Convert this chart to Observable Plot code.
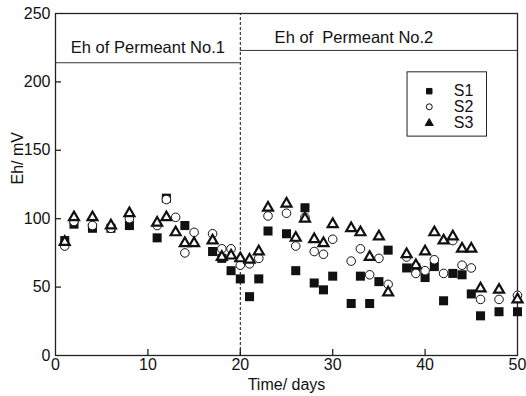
<!DOCTYPE html>
<html>
<head>
<meta charset="utf-8">
<script src="https://cdn.jsdelivr.net/npm/d3@7"></script>
<script src="https://cdn.jsdelivr.net/npm/@observablehq/plot@0.6"></script>
<style>
  html, body { margin: 0; padding: 0; background: white; }
  svg text { white-space: pre; }
</style>
</head>
<body>
<div id="chart"></div>
<script>
// ---- data ----
const days = [1,2,4,6,8,11,12,13,14,15,17,18,19,20,21,22,23,25,26,27,28,29,30,32,33,34,35,36,38,39,40,41,42,43,44,45,46,48,50];
const s1 = [84,96,93,93,95,86,115,null,95,null,76,71,62,56,43,56,91,89,62,108,53,48,58,38,58,38,54,77,64,64,57,65,40,60,59,45,29,32,32];
const s2 = [80,98,95,93,100,95,114,101,75,90,89,78,78,66,67,71,102,104,80,101,76,74,85,69,78,59,71,52,72,60,62,70,60,84,66,64,41,41,44];
const s3 = [83,101,101,95,104,97,101,90,82,82,84,72,73,71,70,76,108,111,86,100,85,82,96,93,90,72,87,46,74,66,76,90,84,87,78,78,49,48,41];
const seriesNames = ["S1","S2","S3"];
const xTicks = [0,10,20,30,40,50];
const yTicks = [0,50,100,150,200,250];
const boundaryDay = 20;
const headerLevels = [214, 223];
const headerTexts = ["Eh of Permeant No.1", "Eh of  Permeant No.2"];
const headerTextPos = [[10, 225], [32.3, 232.5]];
const xLabel = "Time/ days";
const yLabel = "Eh/ mV";
// legend placement in data units
const legendBox = {x1: 38.1, x2: 46.7, y1: 160, y2: 207};
const legendRowY = [193.2, 181.8, 169.8];
const legendSymX = 40.45, legendTextX = 43.1;

const rows = (vals) => days.map((d, i) => ({day: d, v: vals[i]})).filter(r => r.v != null);

const W = 526, H = 396, mL = 55, mR = 9, mT = 13, mB = 41;
const pw = W - mL - mR, ph = H - mT - mB;
const font = "'Liberation Sans', Arial, sans-serif";

const legendRows = seriesNames.map((s, i) => ({name: s, y: legendRowY[i], sym: ["square","circle","triangle"][i]}));

const chart = Plot.plot({
  width: W, height: H,
  marginLeft: mL, marginRight: mR, marginTop: mT, marginBottom: mB,
  style: {fontFamily: font, fontSize: "16px", color: "#111", background: "white", overflow: "visible"},
  x: {domain: [0, 50], ticks: xTicks, tickSize: 0, tickPadding: 3, label: null},
  y: {domain: [0, 250], ticks: yTicks, tickSize: 0, tickPadding: 5, label: null},
  marks: [
    Plot.frame({stroke: "#222", strokeWidth: 1.3}),
    Plot.tickY(yTicks.slice(1, -1), {y: d => d, insetRight: pw - 6, stroke: "#222", strokeWidth: 1.3}),
    Plot.tickX(xTicks.slice(1, -1), {x: d => d, insetTop: ph - 6, stroke: "#222", strokeWidth: 1.3}),
    Plot.ruleX([boundaryDay], {y1: 0, y2: 250, stroke: "#111", strokeDasharray: "3,2", strokeWidth: 1}),
    Plot.ruleY([headerLevels[0]], {x1: 0, x2: boundaryDay, stroke: "#333", strokeWidth: 1}),
    Plot.ruleY([headerLevels[1]], {x1: boundaryDay, x2: 50, stroke: "#333", strokeWidth: 1}),
    Plot.text(headerTexts, {x: (d, i) => headerTextPos[i][0], y: (d, i) => headerTextPos[i][1], text: d => d, fill: "#111", fontSize: 16.5}),
    Plot.dot(rows(s1), {x: "day", y: "v", symbol: "square", r: 5.1, fill: "#111", stroke: "none"}),
    Plot.dot(rows(s2), {x: "day", y: "v", symbol: "circle", r: 4.3, fill: "white", stroke: "#111", strokeWidth: 1}),
    Plot.dot(rows(s3), {x: "day", y: "v", symbol: "triangle", r: 3.7, fill: "white", stroke: "#111", strokeWidth: 2.2}),
    // legend
    Plot.rect([legendBox], {x1: "x1", x2: "x2", y1: "y1", y2: "y2", fill: "none", stroke: "#222", strokeWidth: 1}),
    Plot.dot(legendRows, {x: () => legendSymX, y: "y", symbol: "sym", r: d => d.sym === "square" ? 3.4 : 3.2,
      fill: d => d.sym === "circle" ? "white" : "#111", stroke: "#111", strokeWidth: 1}),
    Plot.text(legendRows, {x: () => legendTextX, y: "y", text: "name", textAnchor: "start", fill: "#111", fontSize: 16}),
    // axis titles
    Plot.text([xLabel], {frameAnchor: "bottom", dy: 34, text: d => d, fill: "#111"}),
    Plot.text([yLabel], {frameAnchor: "left", dx: -38, rotate: -90, text: d => d, fill: "#111"})
  ]
});
document.getElementById("chart").appendChild(chart);
</script>
</body>
</html>
